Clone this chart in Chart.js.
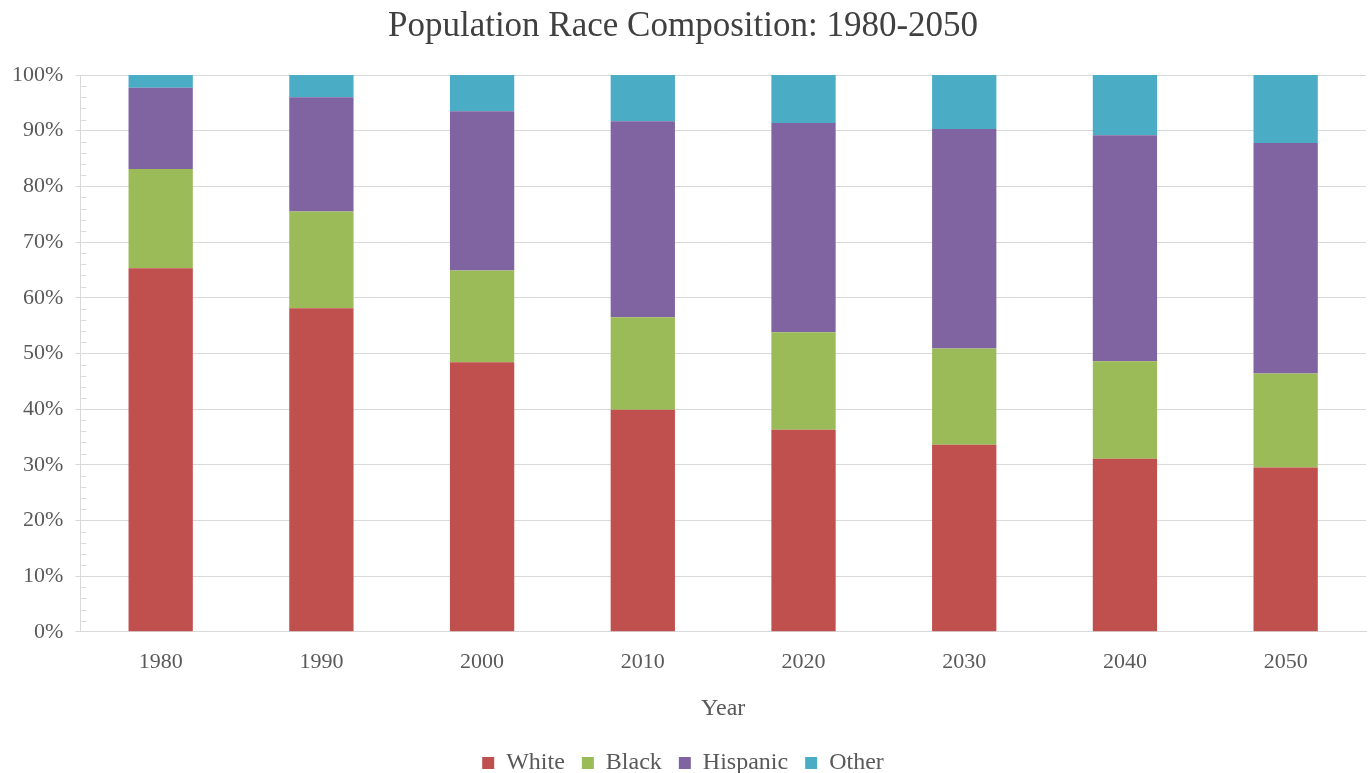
<!DOCTYPE html>
<html>
<head>
<meta charset="utf-8">
<script src="https://cdn.jsdelivr.net/npm/chart.js@4.4.1/dist/chart.umd.min.js"></script>
<style>
  html, body { margin: 0; padding: 0; background: #fff; }
  #wrap { width: 1368px; height: 773px; }
</style>
</head>
<body>
<div id="wrap"><canvas id="raceChart"></canvas></div>
<script>
// valores (percentual de cada grupo, empilhado)
const years = ['1980', '1990', '2000', '2010', '2020', '2030', '2040', '2050'];
const white = [65.3, 58.1, 48.4, 39.9, 36.3, 33.6, 31.1, 29.5];
const black = [17.8, 17.4, 16.5, 16.6, 17.5, 17.3, 17.5, 16.9];
const hispanic = [14.6, 20.5, 28.6, 35.2, 37.6, 39.4, 40.6, 41.4];
const other = [2.3, 4.0, 6.5, 8.3, 8.6, 9.7, 10.8, 12.2];

const seriesConfig = [
  { label: 'White', data: white, color: '#C0504D' },
  { label: 'Black', data: black, color: '#9BBB59' },
  { label: 'Hispanic', data: hispanic, color: '#8064A2' },
  { label: 'Other', data: other, color: '#4BACC6' }
];

const serif = '"Liberation Serif", "Times New Roman", serif';

// pequenos traços a cada 2% no eixo vertical
const minorTicks = {
  id: 'minorTicks',
  afterDraw(chart) {
    const y = chart.scales.y;
    const ctx = chart.ctx;
    ctx.save();
    ctx.strokeStyle = '#d9d9d9';
    ctx.lineWidth = 1;
    for (let v = 2; v < 100; v += 2) {
      if (v % 10 === 0) continue;
      const py = Math.round(y.getPixelForValue(v)) + 0.5;
      ctx.beginPath();
      ctx.moveTo(y.right + 1, py);
      ctx.lineTo(y.right + 6, py);
      ctx.stroke();
    }
    ctx.restore();
  }
};

const ctx = document.getElementById('raceChart').getContext('2d');
new Chart(ctx, {
  type: 'bar',
  data: {
    labels: years,
    datasets: seriesConfig.map(s => ({
      label: s.label,
      data: s.data,
      backgroundColor: s.color,
      borderWidth: 0,
      categoryPercentage: 1,
      barPercentage: 0.4
    }))
  },
  options: {
    responsive: true,
    maintainAspectRatio: false,
    animation: false,
    layout: { padding: { left: 0, right: 2, top: 4, bottom: -12 } },
    plugins: {
      title: {
        display: true,
        text: 'Population Race Composition: 1980-2050',
        color: '#404040',
        font: { family: serif, size: 35, weight: 'normal' },
        padding: { top: 2, bottom: 27 }
      },
      legend: {
        position: 'bottom',
        labels: {
          color: '#595959',
          font: { family: serif, size: 24 },
          boxWidth: 12,
          boxHeight: 12,
          padding: 17
        }
      },
      tooltip: { enabled: false }
    },
    scales: {
      x: {
        stacked: true,
        grid: { display: false },
        border: { color: '#d9d9d9' },
        ticks: { color: '#595959', font: { family: serif, size: 22 }, padding: 9 },
        title: {
          display: true,
          text: 'Year',
          color: '#595959',
          font: { family: serif, size: 24 },
          padding: { top: 10, bottom: 11 }
        }
      },
      y: {
        stacked: true,
        min: 0,
        max: 100,
        ticks: {
          stepSize: 10,
          color: '#595959',
          font: { family: serif, size: 22 },
          padding: 12,
          callback: v => v + '%'
        },
        grid: { color: '#d9d9d9', tickLength: 5 },
        border: { color: '#d9d9d9' }
      }
    }
  },
  plugins: [minorTicks]
});
</script>
</body>
</html>
